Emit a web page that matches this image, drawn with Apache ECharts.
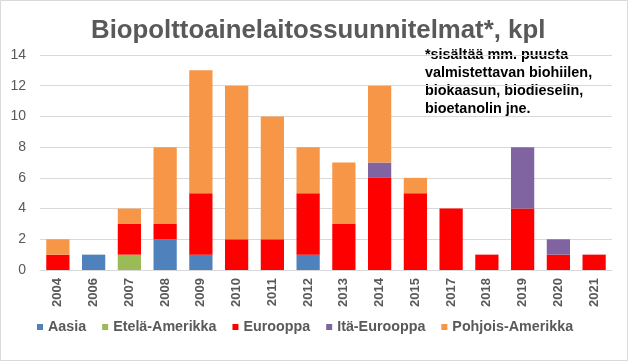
<!DOCTYPE html>
<html><head><meta charset="utf-8">
<script src="https://cdn.jsdelivr.net/npm/echarts@6/dist/echarts.min.js"></script>
<style>html,body{margin:0;padding:0;background:#fff}#c{width:629px;height:362px}</style>
</head><body><div id="c"></div>
<script>
const categories = ['2004','2006','2007','2008','2009','2010','2011','2012','2013','2014','2015','2017','2018','2019','2020','2021'];
const aasia =           [0,1,0,2,1,0,0,1,0,0,0,0,0,0,0,0];
const etelaAmerikka =   [0,0,1,0,0,0,0,0,0,0,0,0,0,0,0,0];
const eurooppa =        [1,0,2,1,4,2,2,4,3,6,5,4,1,4,1,1];
const itaEurooppa =     [0,0,0,0,0,0,0,0,0,1,0,0,0,4,1,0];
const pohjoisAmerikka = [1,0,1,5,8,10,8,3,4,5,1,0,0,0,0,0];
const yTicks = [0,2,4,6,8,10,12,14];

const font = 'Liberation Sans, Arial, sans-serif';
const chart = echarts.init(document.getElementById('c'));
function s(name, data, color){
  return {name, type:'bar', stack:'a', data: data.map(v=>v===0?null:v), itemStyle:{color}, barCategoryGap:'35%'};
}
chart.setOption({
  animation:false,
  title:{text:'Biopolttoainelaitossuunnitelmat*, kpl', left:86, top:13,
    textStyle:{fontFamily:font, fontSize:25.8, fontWeight:'bold', color:'#595959'}},
  graphic:[
    {type:'rect', shape:{x:0.5,y:0.5,width:627,height:360}, style:{fill:null, stroke:'#d9d9d9', lineWidth:1}, silent:true},
    {type:'text', left:425, top:46, style:{text:'*sisältää mm. puusta\nvalmistettavan biohiilen,\nbiokaasun, biodieselin,\nbioetanolin jne.', font:'bold 14.4px '+font, fill:'#000', lineHeight:18}}
  ],
  legend:{bottom:23, left:32, itemWidth:6, itemHeight:6, itemGap:16, icon:'rect',
    textStyle:{fontFamily:font, fontSize:14.3, fontWeight:'bold', color:'#595959'}},
  grid:{left:40, right:17, top:55, bottom:92},
  xAxis:{type:'category', data:categories, axisTick:{show:false},
    axisLine:{lineStyle:{color:'#d9d9d9'}},
    axisLabel:{rotate:90, fontFamily:font, fontSize:13, fontWeight:'bold', color:'#595959', margin:8}},
  yAxis:{type:'value', min:0, max:14, interval:2,
    axisLabel:{fontFamily:font, fontSize:14, color:'#595959', margin:14},
    splitLine:{lineStyle:{color:'#d9d9d9'}}},
  series:[
    s('Aasia', aasia, '#4F81BD'),
    s('Etelä-Amerikka', etelaAmerikka, '#9BBB59'),
    s('Eurooppa', eurooppa, '#FF0000'),
    s('Itä-Eurooppa', itaEurooppa, '#8064A2'),
    s('Pohjois-Amerikka', pohjoisAmerikka, '#F79646')
  ]
});
</script></body></html>
